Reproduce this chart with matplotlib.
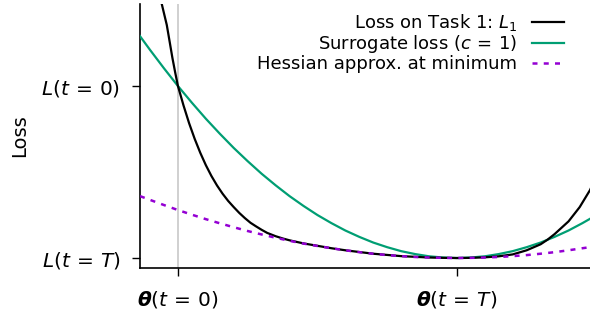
import matplotlib
matplotlib.use("Agg")
import matplotlib.pyplot as plt

plt.rcParams['font.family'] = ['DejaVu Sans']
plt.rcParams['mathtext.fontset'] = 'dejavusans'

# parameter axis: 0 = theta(t=0), 1 = theta(t=T)
theta_q = [-0.136, -0.1, -0.05, 0.0, 0.05, 0.1, 0.15, 0.2, 0.25, 0.3, 0.35,
           0.4, 0.45, 0.5, 0.55, 0.6, 0.65, 0.7, 0.75, 0.8, 0.85, 0.9, 0.95,
           1.0, 1.05, 1.1, 1.15, 1.2, 1.25, 1.3, 1.35, 1.4, 1.45, 1.477]
surrogate = [1.290, 1.210, 1.103, 1.0, 0.903, 0.810, 0.723, 0.640, 0.563,
             0.490, 0.423, 0.360, 0.303, 0.250, 0.203, 0.160, 0.123, 0.090,
             0.063, 0.040, 0.023, 0.010, 0.003, 0.0, 0.003, 0.010, 0.023,
             0.040, 0.063, 0.090, 0.123, 0.160, 0.203, 0.228]
hessian = [0.360, 0.338, 0.308, 0.279, 0.252, 0.226, 0.202, 0.179, 0.157,
           0.137, 0.118, 0.100, 0.084, 0.070, 0.057, 0.045, 0.034, 0.025,
           0.017, 0.011, 0.006, 0.003, 0.001, 0.0, 0.001, 0.003, 0.006,
           0.011, 0.017, 0.025, 0.034, 0.045, 0.057, 0.063]

theta_l1 = [-0.07, -0.058, -0.04, -0.029, -0.02, -0.01, 0.0, 0.02, 0.04, 0.06,
            0.08, 0.10, 0.12, 0.14, 0.16, 0.18, 0.20, 0.22, 0.24, 0.26, 0.28,
            0.30, 0.32, 0.35, 0.375, 0.40, 0.45, 0.50, 0.55, 0.60, 0.70, 0.80,
            0.90, 0.95, 1.0, 1.05, 1.10, 1.15, 1.20, 1.25, 1.30, 1.325, 1.35,
            1.40, 1.44, 1.477, 1.49]
loss_l1 = [1.58, 1.477, 1.355, 1.251, 1.165, 1.08, 1.0, 0.887, 0.784, 0.693,
           0.612, 0.540, 0.477, 0.422, 0.374, 0.332, 0.296, 0.262, 0.232, 0.205,
           0.184, 0.164, 0.146, 0.127, 0.114, 0.103, 0.085, 0.071, 0.057, 0.045,
           0.025, 0.011, 0.003, 0.001, 0.0, 0.001, 0.004, 0.010, 0.021, 0.045,
           0.080, 0.107, 0.139, 0.213, 0.296, 0.395, 0.44]

fig = plt.figure(figsize=(5.9, 3.16), dpi=100)
ax = fig.add_axes([140/590, 48/316, 450/590, 264/316])

ax.axvline(0, color='#c8c8c8', lw=1.2, zorder=1)
ax.plot(theta_l1, loss_l1, color='black', lw=1.6, label=r'Loss on Task 1: $L_1$', zorder=4)
ax.plot(theta_q, surrogate, color='#009e73', lw=1.6, label=r'Surrogate loss ($c\,=\,1$)', zorder=3)
ax.plot(theta_q, hessian, color='#9400d3', lw=1.8, ls=(0, (2, 2.5)),
        label='Hessian approx. at minimum', zorder=5)

ax.set_xlim(-0.136, 1.477)
ax.set_ylim(-0.058, 1.477)
ax.set_xticks([0, 1])
ax.set_xticklabels([r'$\mathbfit{\theta}(t\,=\,0)$', r'$\mathbfit{\theta}(t\,=\,T)$'], fontsize=14.5)
ax.set_yticks([0, 1])
ax.set_yticklabels([r'$L(t\,=\,T)$', r'$L(t\,=\,0)$'], fontsize=14.5)
ax.set_ylabel('Loss', fontsize=14, labelpad=9)
ax.tick_params(length=6, width=1, pad=8)
ax.tick_params(axis='x', pad=9)

for s in ['top', 'right']:
    ax.spines[s].set_visible(False)
for s in ['left', 'bottom']:
    ax.spines[s].set_linewidth(1.2)

ax.legend(loc='upper right', bbox_to_anchor=(575/590, 0.995), bbox_transform=fig.transFigure,
          frameon=False, markerfirst=False, fontsize=13, handlelength=1.8,
          labelspacing=0.0, borderaxespad=0.2, handletextpad=0.8)

fig.savefig('out.png', dpi=100)
